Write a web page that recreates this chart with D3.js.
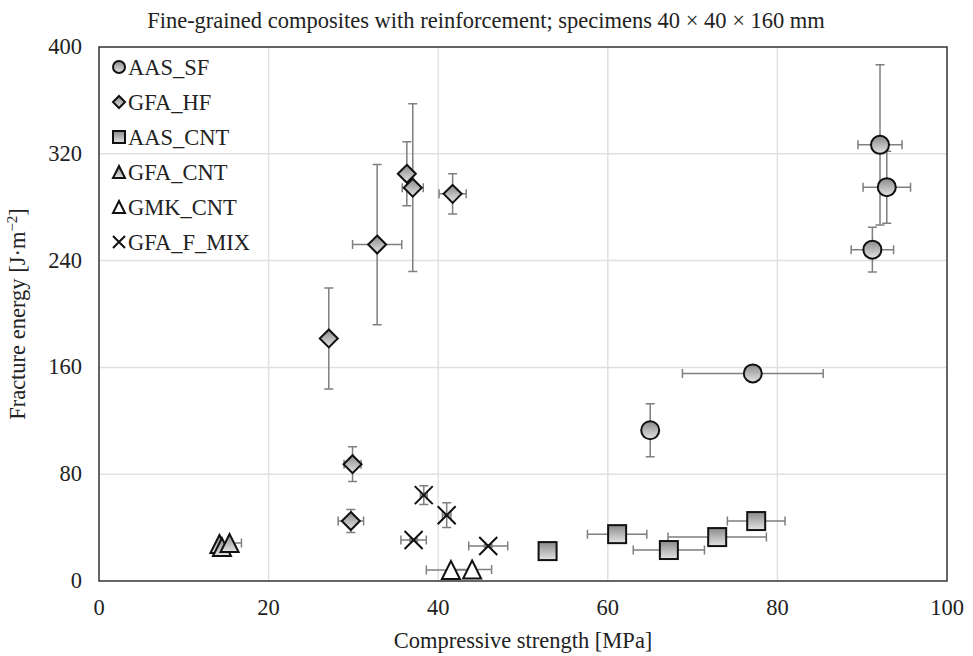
<!DOCTYPE html>
<html>
<head>
<meta charset="utf-8">
<script src="https://cdn.jsdelivr.net/npm/d3@7"></script>
<style>
  body { margin: 0; background: #fff; }
  svg text { font-family: "Liberation Serif", "Times New Roman", serif; fill: #222; font-size: 22.5px; }
</style>
</head>
<body>
<script>
// series: x = compressive strength [MPa], y = fracture energy, with error bars
var aasSfX = [92.1, 92.9, 91.2, 77.1, 65.0],
    aasSfY = [326.7, 295, 248.2, 155.5, 112.9],
    aasSfXe = [2.6, 2.8, 2.5, 8.3, 0.3],
    aasSfYe = [60, 27, 16.8, 1, 19.8];

var gfaHfX = [36.3, 37.0, 41.7, 32.8, 27.1, 29.9, 29.7],
    gfaHfY = [305, 294.6, 290, 252, 181.7, 87.5, 44.9],
    gfaHfXe = [0.6, 1.24, 1.6, 2.9, 0.5, 1.0, 1.5],
    gfaHfYe = [24, 62.8, 15, 60, 37.8, 13, 8.6];

var aasCntX = [52.9, 61.1, 67.2, 72.9, 77.5],
    aasCntY = [22.4, 35.1, 23.2, 32.9, 44.9],
    aasCntXe = [0.8, 3.5, 4.2, 5.8, 3.4],
    aasCntYe = [3, 1, 1, 1, 1];

var gfaCntX = [14.2, 14.5, 15.4],
    gfaCntY = [27.7, 25.4, 28.4],
    gfaCntXe = [0.3, 0.3, 1.4],
    gfaCntYe = [0.5, 0.5, 0.5];

var gmkCntX = [41.5, 44.0],
    gmkCntY = [8.2, 8.6],
    gmkCntXe = [2.9, 2.3],
    gmkCntYe = [0.5, 0.5];

var gfaMixX = [38.3, 41.0, 37.1, 45.9],
    gfaMixY = [64.3, 49.3, 30.7, 26.2],
    gfaMixXe = [0.4, 0.5, 1.5, 2.3],
    gfaMixYe = [7, 9.3, 1, 1];

var xTicks = [0, 20, 40, 60, 80, 100],
    yTicks = [0, 80, 160, 240, 320, 400];

var width = 973,
    height = 656;

var svg = d3.select('body')
  .append('svg')
  .attr('width', width)
  .attr('height', height);

var grad = svg.append('defs').append('linearGradient')
  .attr('id', 'gfill')
  .attr('x1', 0).attr('y1', 0).attr('x2', 0).attr('y2', 1);
grad.append('stop').attr('offset', '0%').attr('stop-color', '#8a8a8a');
grad.append('stop').attr('offset', '100%').attr('stop-color', '#e4e4e4');

var x = d3.scaleLinear().domain([0, 100]).range([99, 947]);
var y = d3.scaleLinear().domain([0, 400]).range([581, 47]);

function makeSeries(name, shape, xs, ys, xe, ye) {
  return {
    name: name,
    shape: shape,
    points: xs.map(function(v, i) {
      return { x: v, y: ys[i], xe: xe[i], ye: ye[i] };
    })
  };
}

var series = [
  makeSeries('AAS_SF', 'circle', aasSfX, aasSfY, aasSfXe, aasSfYe),
  makeSeries('GFA_HF', 'diamond', gfaHfX, gfaHfY, gfaHfXe, gfaHfYe),
  makeSeries('AAS_CNT', 'square', aasCntX, aasCntY, aasCntXe, aasCntYe),
  makeSeries('GFA_CNT', 'triangle', gfaCntX, gfaCntY, gfaCntXe, gfaCntYe),
  makeSeries('GMK_CNT', 'triangleWhite', gmkCntX, gmkCntY, gmkCntXe, gmkCntYe),
  makeSeries('GFA_F_MIX', 'cross', gfaMixX, gfaMixY, gfaMixXe, gfaMixYe)
];

// grid
svg.append('g')
  .selectAll('line')
  .data(xTicks.slice(1, -1))
  .enter().append('line')
  .attr('x1', function(d) { return x(d); })
  .attr('x2', function(d) { return x(d); })
  .attr('y1', y(400)).attr('y2', y(0))
  .attr('stroke', '#e0e0e0').attr('stroke-width', 1.5);

svg.append('g')
  .selectAll('line')
  .data(yTicks.slice(1, -1))
  .enter().append('line')
  .attr('y1', function(d) { return y(d); })
  .attr('y2', function(d) { return y(d); })
  .attr('x1', x(0)).attr('x2', x(100))
  .attr('stroke', '#e0e0e0').attr('stroke-width', 1.5);

// frame
svg.append('rect')
  .attr('x', x(0)).attr('y', y(400))
  .attr('width', x(100) - x(0)).attr('height', y(0) - y(400))
  .attr('fill', 'none').attr('stroke', '#333').attr('stroke-width', 1.5);

// tick labels
svg.append('g')
  .selectAll('text')
  .data(xTicks)
  .enter().append('text')
  .attr('x', function(d) { return x(d); })
  .attr('y', 615)
  .attr('text-anchor', 'middle')
  .text(function(d) { return d; });

svg.append('g')
  .selectAll('text')
  .data(yTicks)
  .enter().append('text')
  .attr('x', 82)
  .attr('y', function(d) { return y(d) + 7; })
  .attr('text-anchor', 'end')
  .text(function(d) { return d; });

// titles
svg.append('text')
  .attr('x', 486).attr('y', 28)
  .attr('text-anchor', 'middle')
  .text('Fine-grained composites with reinforcement; specimens 40 × 40 × 160 mm');

svg.append('text')
  .attr('x', 523).attr('y', 648)
  .attr('text-anchor', 'middle')
  .text('Compressive strength [MPa]');

var yt = svg.append('text')
  .attr('transform', 'translate(25,' + ((y(0) + y(400)) / 2) + ') rotate(-90)')
  .attr('text-anchor', 'middle');
yt.append('tspan').text('Fracture energy [J·m');
yt.append('tspan').attr('dy', -8).style('font-size', '15px').text('−2');
yt.append('tspan').attr('dy', 8).text(']');

// error bars
var cap = 4.5;
var errG = svg.append('g')
  .attr('stroke', '#7f7f7f')
  .attr('stroke-width', 1.5)
  .attr('fill', 'none');

series.forEach(function(s) {
  s.points.forEach(function(p) {
    var cx = x(p.x), cy = y(p.y),
        xl = x(p.x - p.xe), xr = x(p.x + p.xe),
        yt0 = y(p.y + p.ye), yb = y(p.y - p.ye);
    errG.append('path')
      .attr('d', 'M' + xl + ',' + cy + 'H' + xr +
        'M' + xl + ',' + (cy - cap) + 'V' + (cy + cap) +
        'M' + xr + ',' + (cy - cap) + 'V' + (cy + cap) +
        'M' + cx + ',' + yt0 + 'V' + yb +
        'M' + (cx - cap) + ',' + yt0 + 'H' + (cx + cap) +
        'M' + (cx - cap) + ',' + yb + 'H' + (cx + cap));
  });
});

function drawMarker(g, shape, cx, cy, s) {
  var h = s / 2;
  if (shape === 'circle') {
    g.append('circle').attr('cx', cx).attr('cy', cy).attr('r', h)
      .attr('fill', 'url(#gfill)').attr('stroke', '#111').attr('stroke-width', 2);
  } else if (shape === 'diamond') {
    g.append('path')
      .attr('d', 'M' + cx + ',' + (cy - h) + 'L' + (cx + h) + ',' + cy +
        'L' + cx + ',' + (cy + h) + 'L' + (cx - h) + ',' + cy + 'Z')
      .attr('fill', 'url(#gfill)').attr('stroke', '#111').attr('stroke-width', 2);
  } else if (shape === 'square') {
    g.append('rect').attr('x', cx - h).attr('y', cy - h)
      .attr('width', s).attr('height', s)
      .attr('fill', 'url(#gfill)').attr('stroke', '#111').attr('stroke-width', 2);
  } else if (shape === 'triangle' || shape === 'triangleWhite') {
    g.append('path')
      .attr('d', 'M' + cx + ',' + (cy - h) + 'L' + (cx + h) + ',' + (cy + h) +
        'L' + (cx - h) + ',' + (cy + h) + 'Z')
      .attr('fill', shape === 'triangle' ? 'url(#gfill)' : '#fff')
      .attr('stroke', '#111').attr('stroke-width', 2);
  } else if (shape === 'cross') {
    g.append('path')
      .attr('d', 'M' + (cx - h) + ',' + (cy - h) + 'L' + (cx + h) + ',' + (cy + h) +
        'M' + (cx + h) + ',' + (cy - h) + 'L' + (cx - h) + ',' + (cy + h))
      .attr('fill', 'none').attr('stroke', '#111').attr('stroke-width', 2);
  }
}

// markers
var markG = svg.append('g');
series.forEach(function(s) {
  s.points.forEach(function(p) {
    drawMarker(markG, s.shape, x(p.x), y(p.y), 18);
  });
});

// legend
var legend = svg.append('g');
series.forEach(function(s, i) {
  var ly = 67 + i * 35;
  drawMarker(legend, s.shape, 119, ly, 12);
  legend.append('text')
    .attr('x', 128).attr('y', ly + 8)
    .text(s.name);
});
</script>
</body>
</html>
